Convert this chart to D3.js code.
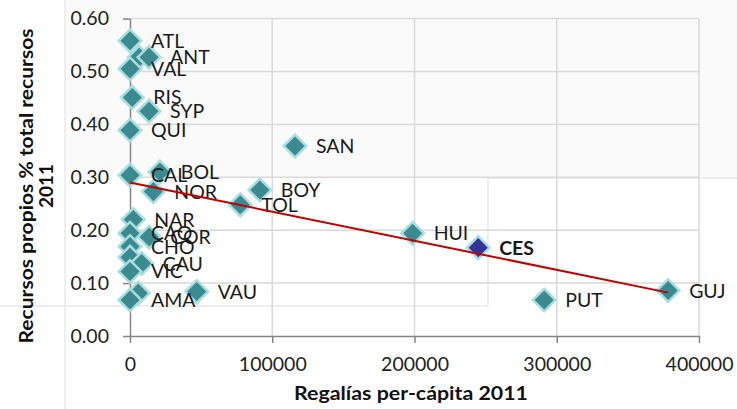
<!DOCTYPE html>
<html>
<head>
<meta charset="utf-8">
<script src="https://cdn.jsdelivr.net/npm/d3@7"></script>
<style>
  body { margin: 0; background: #fff; }
  svg { display: block; }
  .tick text { font-family: Lato, "Open Sans", sans-serif; font-size: 19.5px; fill: #222; }
  .lbl { font-family: Lato, "Open Sans", sans-serif; font-size: 19.5px; fill: #1a1a1a; }
  .ttl { font-family: Lato, "Open Sans", sans-serif; font-weight: bold; font-size: 19px; fill: #111; }
</style>
</head>
<body>
<div id="chart"></div>
<script>
// Department codes, royalties per capita (x) and own resources share (y)
const codes = ["ATL", "", "ANT", "VAL", "RIS", "SYP", "QUI", "SAN", "CAL", "BOL", "NOR", "BOY", "TOL",
               "NAR", "CAQ", "COR", "CHO", "", "CAU", "VIC", "", "AMA", "VAU", "HUI", "CES", "PUT", "GUJ"];
const regalias = [0, 6500, 13400, 0, 1600, 13400, 0, 116000, 0, 21000, 16400, 91300, 77500,
                  2300, 0, 13500, 0, 0, 8200, 0, 5800, 0, 46900, 198700, 244800, 291200, 378300];
const propios = [0.558, 0.527, 0.527, 0.505, 0.451, 0.425, 0.389, 0.359, 0.304, 0.310, 0.273, 0.276, 0.248,
                 0.220, 0.194, 0.187, 0.169, 0.149, 0.137, 0.122, 0.081, 0.068, 0.084, 0.194, 0.167, 0.068, 0.086];
const highlight = "CES";

// Linear trend line (as drawn in the original)
const trendX = [0, 378300];
const trendY = [0.290, 0.082];

const xTicks = [0, 100000, 200000, 300000, 400000];
const yTicks = [0, 0.1, 0.2, 0.3, 0.4, 0.5, 0.6];

const width = 737, height = 409;

const svg = d3.select("#chart").append("svg")
    .attr("width", width)
    .attr("height", height);

// faint background panels seen behind the chart
svg.append("rect").attr("x", 65).attr("y", 0).attr("width", 672).attr("height", 178)
    .attr("fill", "#fafafa");
const ghost = svg.append("g").attr("stroke", "#e8e8e8").attr("stroke-width", 1.5).attr("fill", "none");
ghost.append("line").attr("x1", 65).attr("x2", 65).attr("y1", 0).attr("y2", height);
ghost.append("line").attr("x1", 0).attr("x2", 488).attr("y1", 306).attr("y2", 306);
ghost.append("line").attr("x1", 488).attr("x2", 488).attr("y1", 178).attr("y2", 306);
ghost.append("line").attr("x1", 488).attr("x2", width).attr("y1", 178).attr("y2", 178);

const x = d3.scaleLinear().domain([0, 400000]).range([130, 699]);
const y = d3.scaleLinear().domain([0, 0.6]).range([336, 18.6]);

// gridlines
const grid = svg.append("g").attr("stroke", "#d9d9d9").attr("stroke-width", 1.5);
grid.selectAll(".h").data(yTicks.slice(1)).enter().append("line")
    .attr("x1", x(0)).attr("x2", x(400000))
    .attr("y1", d => y(d)).attr("y2", d => y(d));
grid.selectAll(".v").data(xTicks.slice(1)).enter().append("line")
    .attr("x1", d => x(d)).attr("x2", d => x(d))
    .attr("y1", y(0)).attr("y2", y(0.6));

// axes
const yAxis = svg.append("g")
    .attr("transform", `translate(${x(0)},0)`)
    .call(d3.axisLeft(y).tickValues(yTicks).tickSize(7).tickSizeOuter(0).tickPadding(14)
        .tickFormat(d3.format(".2f")));
const xAxis = svg.append("g")
    .attr("transform", `translate(0,${y(0)})`)
    .call(d3.axisBottom(x).tickValues(xTicks).tickSize(7).tickSizeOuter(0).tickPadding(14)
        .tickFormat(d3.format("d")));
[yAxis, xAxis].forEach(a => {
    a.select(".domain").attr("stroke", "#868686").attr("stroke-width", 1.5);
    a.selectAll(".tick line").attr("stroke", "#868686").attr("stroke-width", 1.5);
});

// points
const pts = codes.map((c, i) => ({code: c, x: regalias[i], y: propios[i]}));
const side = 16;
svg.append("g").selectAll("rect").data(pts).enter().append("rect")
    .attr("x", -side / 2).attr("y", -side / 2)
    .attr("width", side).attr("height", side)
    .attr("transform", d => `translate(${x(d.x)},${y(d.y)}) rotate(45)`)
    .attr("fill", d => d.code === highlight ? "#333399" : "#3a8a8f")
    .attr("stroke", "#aadde0")
    .attr("stroke-width", 2.5);

// labels
svg.append("g").selectAll("text").data(pts.filter(d => d.code)).enter().append("text")
    .attr("class", "lbl")
    .attr("x", d => x(d.x) + 21)
    .attr("y", d => y(d.y))
    .attr("dy", "0.36em")
    .style("font-weight", d => d.code === highlight ? "bold" : null)
    .text(d => d.code);

// trend line
svg.append("line")
    .attr("x1", x(trendX[0])).attr("y1", y(trendY[0]))
    .attr("x2", x(trendX[1])).attr("y2", y(trendY[1]))
    .attr("stroke", "#c00000").attr("stroke-width", 2);

// titles
svg.append("text").attr("class", "ttl")
    .attr("x", 411).attr("y", 400)
    .attr("text-anchor", "middle")
    .attr("textLength", 234).attr("lengthAdjust", "spacingAndGlyphs")
    .text("Regalías per-cápita 2011");

const yt = svg.append("text").attr("class", "ttl")
    .attr("transform", "translate(0,186) rotate(-90)")
    .attr("text-anchor", "middle");
yt.append("tspan").attr("x", 0).attr("y", 33)
    .attr("textLength", 315).attr("lengthAdjust", "spacingAndGlyphs")
    .text("Recursos propios % total recursos");
yt.append("tspan").attr("x", 0).attr("y", 53).text("2011");
</script>
</body>
</html>
